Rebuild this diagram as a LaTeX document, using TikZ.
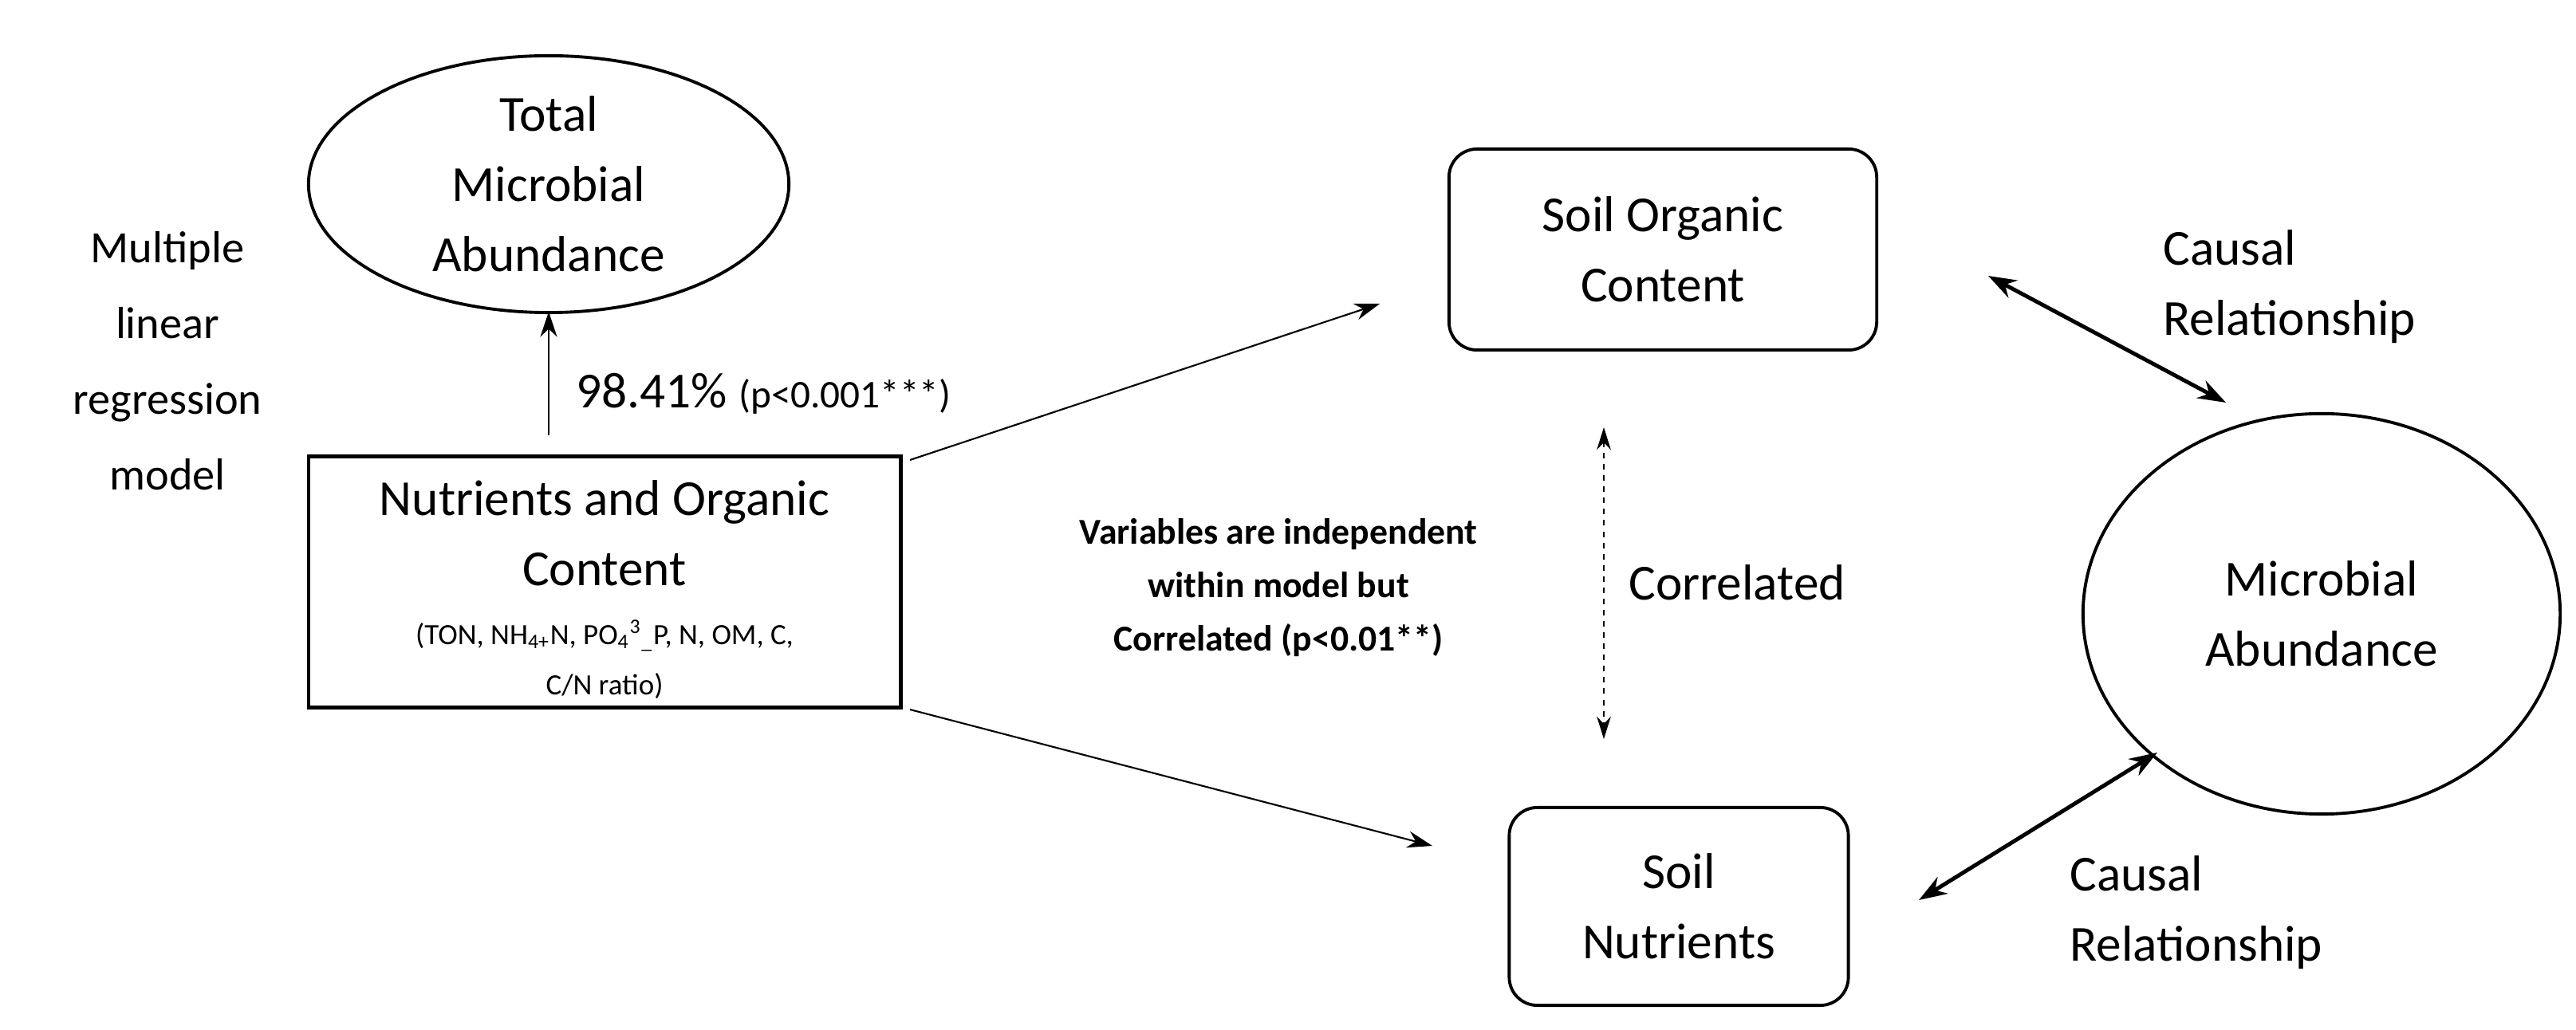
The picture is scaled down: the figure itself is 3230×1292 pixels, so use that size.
\documentclass[tikz,border=0pt]{standalone}
\usepackage{fontspec}
\setmainfont{Carlito}
\usetikzlibrary{shapes.geometric,arrows.meta}
\begin{document}
\begin{tikzpicture}[x=0.01cm,y=-0.01cm,
 big/.style={font=\fontsize{18}{25}\selectfont,align=center},
 ell/.style={ellipse,draw,line width=1.1pt,inner sep=0pt},
 rbox/.style={draw,rounded corners=10pt,line width=1.1pt,inner sep=0pt},
 thin/.style={-{Stealth[length=9pt,width=6pt]},line width=0.6pt},
 thick2/.style={{Stealth[length=10pt,width=7pt]}-{Stealth[length=10pt,width=7pt]},line width=1.4pt}]
\useasboundingbox (0,0) rectangle (3230,1292);
\node[ell,minimum width=6.02cm,minimum height=3.22cm,big] (tma) at (688,231) {Total\\Microbial\\Abundance};
\node[big,font=\fontsize{16}{27}\selectfont] (mlr) at (210,453) {Multiple\\linear\\regression\\model};
\node[draw,line width=1.3pt,minimum width=7.42cm,minimum height=3.15cm,inner sep=0pt] (nut) at (758,730) {};
\node[big,anchor=north] (nutt) at (758,590) {Nutrients and Organic\\Content};
\node[align=center,anchor=north,font=\fontsize{10.5}{18}\selectfont] (nuts) at (758,765) {(TON, NH\textsubscript{4+}N, PO\textsubscript{4}\textsuperscript{3}\textsubscript{\_}P, N, OM, C,\\C/N ratio)};
\node[rbox,minimum width=5.36cm,minimum height=2.52cm,big] (soc) at (2085,313) {Soil Organic\\Content};
\node[rbox,minimum width=4.25cm,minimum height=2.48cm,big] (sn) at (2105,1137) {Soil\\Nutrients};
\node[ell,minimum width=5.98cm,minimum height=5.02cm,big] (ma) at (2911,770) {Microbial\\Abundance};
\coordinate (a1) at (688,546); \coordinate (a2) at (688,391);
\draw[thin] (a1) -- (a2);
\node[anchor=west] (pct) at (710,494) {\fontsize{18}{22}\selectfont 98.41\% \fontsize{14}{18}\selectfont(p<0.001***)};
\coordinate (b1) at (1141,577); \coordinate (b2) at (1730,381);
\coordinate (c1) at (1141,890); \coordinate (c2) at (1796,1061);
\draw[thin] (b1) -- (b2);
\draw[thin] (c1) -- (c2);
\coordinate (d1) at (2011,536); \coordinate (d2) at (2011,927);
\draw[{Stealth[length=8pt,width=5pt]}-{Stealth[length=8pt,width=5pt]},line width=0.6pt,dash pattern=on 2pt off 2pt] (d1) -- (d2);
\node[big,anchor=west] (cor) at (2030,731) {Correlated};
\node[align=center,font=\bfseries\fontsize{13}{19}\selectfont] (vi) at (1603,737) {Variables are independent\\within model but\\Correlated (p<0.01**)};
\coordinate (e1) at (2493,346); \coordinate (e2) at (2791,505);
\coordinate (f1) at (2406,1129); \coordinate (f2) at (2705,944);
\draw[thick2] (e1) -- (e2);
\draw[thick2] (f1) -- (f2);
\node[big,align=left,anchor=west] (c1t) at (2700,360) {Causal\\Relationship};
\node[big,align=left,anchor=west] (c2t) at (2583,1145) {Causal\\Relationship};
\end{tikzpicture}
\end{document}
